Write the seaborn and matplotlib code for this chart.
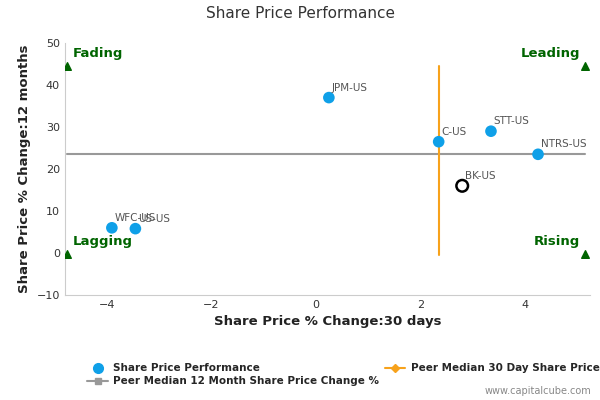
import matplotlib
matplotlib.use("Agg")
import matplotlib.pyplot as plt
import seaborn as sns
import pandas as pd
from matplotlib.lines import Line2D

tickers = ["JPM-US", "C-US", "STT-US", "NTRS-US", "WFC-US", "US-US"]
chg30 = [0.25, 2.35, 3.35, 4.25, -3.9, -3.45]
chg12m = [37.0, 26.5, 29.0, 23.5, 6.0, 5.8]
focus_name = "BK-US"
focus_x, focus_y = 2.8, 16.0
median30 = 2.35
median12 = 23.5
quadrants = ["Fading", "Leading", "Lagging", "Rising"]
quad_x = [-4.75, 5.15, -4.75, 5.15]
quad_y = [44.5, 44.5, -0.3, -0.3]

sns.set_style("white")
fig = plt.figure(figsize=(6, 4), dpi=100)
ax = fig.add_axes([0.108, 0.2625, 0.875, 0.63])
df = pd.DataFrame({"x": chg30, "y": chg12m, "t": tickers})
ax.plot([-4.75, 5.15], [median12, median12], color="#999999", lw=1.5, zorder=1)
ax.plot([median30, median30], [-0.5, 44.5], color="#f7a21b", lw=1.5, zorder=1)
sns.scatterplot(data=df, x="x", y="y", ax=ax, color="#0fa0e8", s=70, edgecolor="none", zorder=3)
ax.scatter([focus_x], [focus_y], s=70, facecolor="none", edgecolor="black", lw=1.8, zorder=3)
for x, y, t in zip(chg30 + [focus_x], chg12m + [focus_y], tickers + [focus_name]):
    ax.text(x + 0.05, y + 1.2, t, fontsize=7.5, color="#555555", ha="left", va="bottom")
ax.scatter(quad_x, quad_y, marker="^", color="#006400", s=30, zorder=3)
for x, y, q in zip(quad_x, quad_y, quadrants):
    ha = "left" if x < 0 else "right"
    ax.text(x + (0.1 if x < 0 else -0.1), y + 1.5, q, fontsize=9.5, fontweight="bold",
            color="#006400", ha=ha, va="bottom")
ax.set_xlim(-4.8, 5.24)
ax.set_ylim(-10, 50)
ax.set_xticks([-4, -2, 0, 2, 4])
ax.set_yticks(range(-10, 51, 10))
ax.tick_params(labelsize=8, colors="#333333", length=0)
for s in ["top", "right"]:
    ax.spines[s].set_visible(False)
ax.spines["left"].set_color("#cccccc")
ax.spines["bottom"].set_color("#cccccc")
ax.set_xlabel("Share Price % Change:30 days", fontsize=9.5, fontweight="bold", color="#222222")
ax.set_ylabel("Share Price % Change:12 months", fontsize=9.5, fontweight="bold", color="#222222")
fig.text(0.5, 0.955, "Share Price Performance", ha="center", fontsize=11, color="#333333")
handles = [
    Line2D([], [], marker="o", color="#0fa0e8", ls="none", markersize=7),
    Line2D([], [], marker="s", color="#999999", lw=1.5, markersize=5),
    Line2D([], [], marker="D", color="#f7a21b", lw=1.5, markersize=4),
]
labels = ["Share Price Performance", "Peer Median 12 Month Share Price Change %",
          "Peer Median 30 Day Share Price Change %"]
fig.legend(handles, labels, loc="upper left", bbox_to_anchor=(0.13, 0.115), ncol=2,
           frameon=False, prop={"size": 7.5, "weight": "bold"}, columnspacing=0.5,
           handletextpad=0.5, labelspacing=0.3)
fig.text(0.985, 0.015, "www.capitalcube.com", ha="right", fontsize=7, color="#888888")
fig.savefig("out.png", dpi=100)
